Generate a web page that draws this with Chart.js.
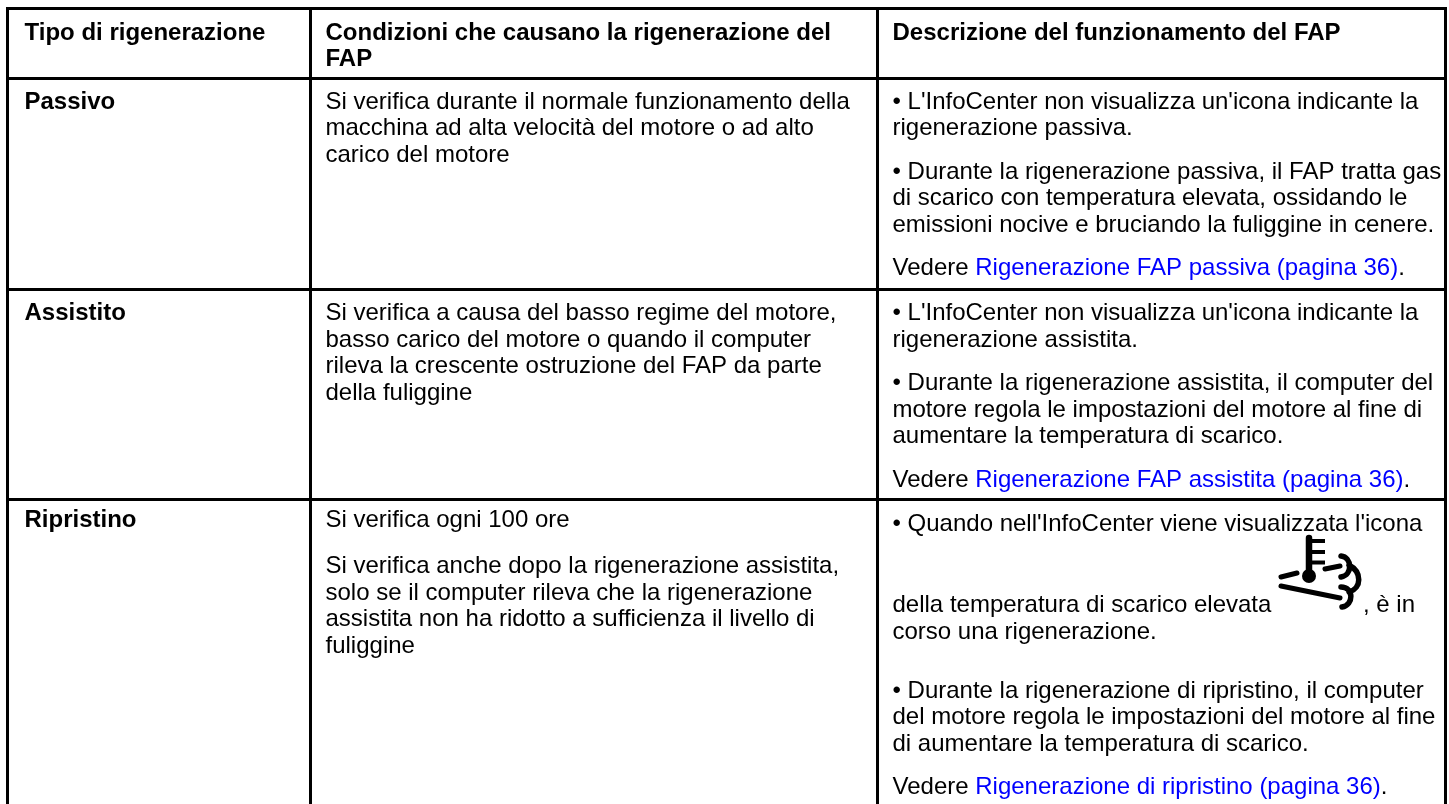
<!DOCTYPE html>
<html>
<head>
<meta charset="utf-8">
<script src="https://cdn.jsdelivr.net/npm/chart.js@4/dist/chart.umd.min.js"></script>
<style>
  html, body { margin: 0; padding: 0; background: #fff; }
  #wrap { position: relative; width: 1449px; height: 804px; }
</style>
</head>
<body>
<div id="wrap"><canvas id="chart"></canvas></div>
<script>
// table rules
const columnEdges = [7.5, 310.5, 877.5, 1445.5];
const rowEdges = [8.5, 78.5, 289.5, 499.5];

const headers = [
  ['Tipo di rigenerazione'],
  ['Condizioni che causano la rigenerazione del', 'FAP'],
  ['Descrizione del funzionamento del FAP']
];
const rowNames = ['Passivo', 'Assistito', 'Ripristino'];
const conditions = [
  [['Si verifica durante il normale funzionamento della', 'macchina ad alta velocità del motore o ad alto', 'carico del motore']],
  [['Si verifica a causa del basso regime del motore,', 'basso carico del motore o quando il computer', 'rileva la crescente ostruzione del FAP da parte', 'della fuliggine']],
  [['Si verifica ogni 100 ore'], ['Si verifica anche dopo la rigenerazione assistita,', 'solo se il computer rileva che la rigenerazione', 'assistita non ha ridotto a sufficienza il livello di', 'fuliggine']]
];
const descriptions = [
  [
    ["• L'InfoCenter non visualizza un'icona indicante la", 'rigenerazione passiva.'],
    ['• Durante la rigenerazione passiva, il FAP tratta gas', 'di scarico con temperatura elevata, ossidando le', 'emissioni nocive e bruciando la fuliggine in cenere.'],
    [['Vedere ', 'Rigenerazione FAP passiva (pagina 36)', '.']]
  ],
  [
    ["• L'InfoCenter non visualizza un'icona indicante la", 'rigenerazione assistita.'],
    ['• Durante la rigenerazione assistita, il computer del', 'motore regola le impostazioni del motore al fine di', 'aumentare la temperatura di scarico.'],
    [['Vedere ', 'Rigenerazione FAP assistita (pagina 36)', '.']]
  ],
  [
    ["• Quando nell'InfoCenter viene visualizzata l'icona"],
    ['della temperatura di scarico elevata', 'corso una rigenerazione.'],
    ['• Durante la rigenerazione di ripristino, il computer', 'del motore regola le impostazioni del motore al fine', 'di aumentare la temperatura di scarico.'],
    [['Vedere ', 'Rigenerazione di ripristino (pagina 36)', '.']]
  ]
];
const afterIcon = ', è in';

const FONT = '"Liberation Sans", Arial, sans-serif';
const SIZE = 24;
const LINE = 26.5;
const PARA = 17;
const colPads = [17, 15, 15];
const rowOffsets = [30, 30.5, 27];
const noGaps = [0, 0, 0];

function drawSpans(ctx, spans, x, y) {
  spans.forEach((s, i) => {
    ctx.fillStyle = i === 1 ? '#0000ff' : '#000';
    ctx.fillText(s, x, y);
    x += ctx.measureText(s).width;
  });
}

function drawCell(ctx, paras, x, y, gaps) {
  paras.forEach((lines, p) => {
    lines.forEach(l => {
      if (Array.isArray(l)) drawSpans(ctx, l, x, y);
      else { ctx.fillStyle = '#000'; ctx.fillText(l, x, y); }
      y += LINE;
    });
    y += PARA + (gaps[p] || 0);
  });
}

function drawIcon(ctx) {
  ctx.save();
  ctx.strokeStyle = '#000';
  ctx.fillStyle = '#000';
  ctx.lineCap = 'round';
  const seg = (a, b, c, d) => { ctx.beginPath(); ctx.moveTo(a, b); ctx.lineTo(c, d); ctx.stroke(); };
  ctx.lineWidth = 6.5;
  seg(1309, 538, 1309, 572);
  ctx.lineWidth = 4;
  ctx.lineCap = 'butt';
  seg(1311, 541, 1325, 541);
  seg(1311, 552, 1325, 552);
  seg(1311, 562.5, 1325, 562.5);
  ctx.lineCap = 'round';
  ctx.beginPath(); ctx.arc(1309, 576, 7, 0, Math.PI * 2); ctx.fill();
  ctx.lineWidth = 5;
  seg(1281, 577, 1297, 573);
  seg(1325, 569, 1340, 566);
  seg(1281, 586, 1340, 598);
  ctx.lineWidth = 5.5;
  ctx.beginPath();
  ctx.moveTo(1341, 556);
  ctx.bezierCurveTo(1352, 557, 1353, 575, 1341, 577);
  ctx.moveTo(1349, 565);
  ctx.bezierCurveTo(1362, 572, 1362, 588, 1349, 592);
  ctx.moveTo(1341, 587);
  ctx.bezierCurveTo(1354, 587, 1354, 605, 1342, 607);
  ctx.stroke();
  ctx.restore();
}

const tablePlugin = {
  id: 'tablePlugin',
  afterDraw(chart) {
    const ctx = chart.ctx;
    const x = chart.scales.x, y = chart.scales.y;
    ctx.save();
    ctx.textBaseline = 'alphabetic';
    ctx.textAlign = 'left';
    const colX = columnEdges.slice(0, 3).map((v, i) => x.getPixelForValue(v) + colPads[i]);
    const rowY = i => y.getPixelForValue(rowEdges[i + 1]);

    ctx.font = 'bold ' + SIZE + 'px ' + FONT;
    headers.forEach((h, i) => drawCell(ctx, [h], colX[i], y.getPixelForValue(rowEdges[0]) + 31, noGaps));
    rowNames.forEach((n, i) => {
      ctx.fillStyle = '#000';
      ctx.fillText(n, colX[0], rowY(i) + rowOffsets[i]);
    });

    ctx.font = SIZE + 'px ' + FONT;
    conditions.forEach((c, i) => drawCell(ctx, c, colX[1], rowY(i) + rowOffsets[i], i === 2 ? [3] : noGaps));
    descriptions.forEach((d, i) => {
      // last row: the icon line pushes its paragraphs apart
      drawCell(ctx, d, colX[2], rowY(i) + (i === 2 ? 31.5 : rowOffsets[i]), i === 2 ? [37.5, 15.5, 0] : noGaps);
    });
    ctx.fillStyle = '#000';
    ctx.fillText(afterIcon, 1363, rowY(2) + 112.5);
    drawIcon(ctx);
    ctx.restore();
  }
};

new Chart(document.getElementById('chart'), {
  type: 'scatter',
  data: { datasets: [{ data: [] }] },
  options: {
    responsive: true,
    maintainAspectRatio: false,
    animation: false,
    layout: { padding: { left: 6, top: 7, right: 2, bottom: 0 } },
    plugins: { legend: { display: false }, tooltip: { enabled: false } },
    scales: {
      x: {
        type: 'linear', min: 6, max: 1447,
        afterBuildTicks: s => { s.ticks = columnEdges.map(v => ({ value: v })); },
        ticks: { display: false },
        border: { display: false },
        grid: { color: '#000', lineWidth: 3, drawTicks: false }
      },
      y: {
        type: 'linear', min: 7, max: 804, reverse: true,
        afterBuildTicks: s => { s.ticks = rowEdges.map(v => ({ value: v })); },
        ticks: { display: false },
        border: { display: false },
        grid: { color: '#000', lineWidth: 3, drawTicks: false }
      }
    }
  },
  plugins: [tablePlugin]
});
</script>
</body>
</html>
